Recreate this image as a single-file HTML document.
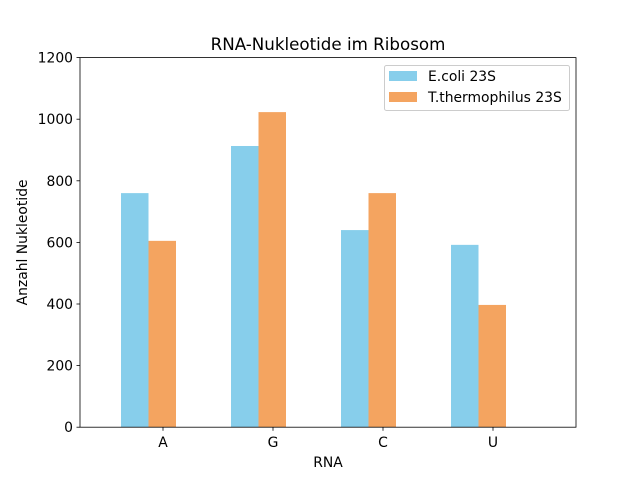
<!DOCTYPE html>
<html><head><meta charset="utf-8"><style>
body{margin:0;background:#fff}
svg text{font-family:"DejaVu Sans","Liberation Sans",sans-serif;fill:#000}
</style></head><body>
<svg id="chart" width="640" height="480" xmlns="http://www.w3.org/2000/svg">
<rect width="640" height="480" fill="#fff"/>
<text x="328" y="50" font-size="16.7" text-anchor="middle">RNA-Nukleotide im Ribosom</text>
<g id="bars"></g>
<g id="axes"></g>
<rect x="80" y="57.6" width="496" height="369.6" fill="none" stroke="#000" stroke-width="0.8"/>
<text x="328" y="467" font-size="13.9" text-anchor="middle">RNA</text>
<text transform="translate(27,242.4) rotate(-90)" font-size="13.9" text-anchor="middle">Anzahl Nukleotide</text>
<g>
<rect x="384.5" y="65.5" width="185" height="45" rx="2" fill="#fff" stroke="#ccc"/>
<rect x="389" y="71" width="28" height="10" fill="#87ceeb"/>
<text x="428" y="81" font-size="13.9">E.coli 23S</text>
<rect x="389" y="92" width="28" height="10" fill="#f4a460"/>
<text x="428" y="102" font-size="13.9">T.thermophilus 23S</text>
</g>
</svg>
<script>
const categories = ["A","G","C","U"];
const ecoli = [760, 913, 640, 592];
const tth = [605, 1023, 760, 397];
const yTicks = [0,200,400,600,800,1000,1200];

const NS="http://www.w3.org/2000/svg";
const y0=427.2, y1=57.6, ymax=1200;
const yScale=v=>y0-(v/ymax)*(y0-y1);
const xScale=i=>163+110*i;
const bw=27.5;
const bars=document.getElementById('bars');
const axes=document.getElementById('axes');
function mk(tag,attrs,parent){const e=document.createElementNS(NS,tag);for(const k in attrs)e.setAttribute(k,attrs[k]);parent.appendChild(e);return e;}
categories.forEach((c,i)=>{
  const cx=xScale(i);
  const b1=mk('rect',{x:cx-42,y:yScale(ecoli[i]),width:bw,height:y0-yScale(ecoli[i]),fill:'#87ceeb'},bars);
  
  
  const b2=mk('rect',{x:cx-42+bw,y:yScale(tth[i]),width:bw,height:y0-yScale(tth[i]),fill:'#f4a460'},bars);
  
  
  mk('line',{x1:cx,x2:cx,y1:y0,y2:y0+3.5,stroke:'#000','stroke-width':0.8},axes);
  const t=mk('text',{x:cx,y:y0+20,'font-size':13.9,'text-anchor':'middle'},axes);
  t.textContent=c;
  
  
});
yTicks.forEach(v=>{
  const y=yScale(v);
  mk('line',{x1:80,x2:76.5,y1:y,y2:y,stroke:'#000','stroke-width':0.8},axes);
  const t=mk('text',{x:73,y:y+5,'font-size':13.9,'text-anchor':'end'},axes);
  t.textContent=v;
  
  
});
</script>
</body></html>
